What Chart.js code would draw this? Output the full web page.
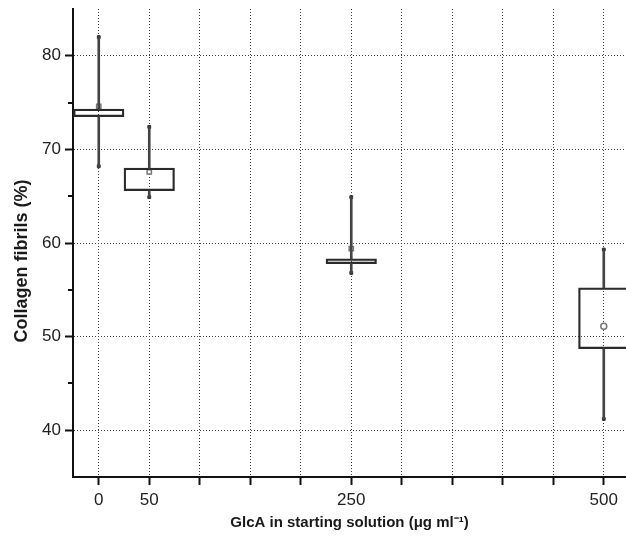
<!DOCTYPE html>
<html>
<head>
<meta charset="utf-8">
<script src="https://cdn.jsdelivr.net/npm/chart.js@4.4.1/dist/chart.umd.min.js"></script>
<style>
    html, body { margin: 0; padding: 0; background: #fff; }
    #wrap { width: 626px; height: 540px; }
</style>
</head>
<body>
<div id="wrap"><canvas id="chart" width="626" height="540"></canvas></div>
<script>
(function () {

    // GlcA dose groups and the box plot values
    var doses = [0, 50, 250, 500];
    var boxLow = [73.5, 65.6, 57.8, 48.7];
    var boxHigh = [74.3, 68.0, 58.3, 55.2];
    var whiskerMin = [68.2, 64.9, 56.8, 41.2];
    var whiskerMax = [82.0, 72.4, 64.9, 59.3];
    var means = [74.6, 67.6, 59.4, 51.1];

    var xTicks = [0, 50, 100, 150, 200, 250, 300, 350, 400, 450, 500];
    var xTickLabels = [0, 50, 250, 500];
    var yTickLabels = [40, 50, 60, 70, 80];
    var yMinorTicks = [45, 55, 65, 75];

    var FONT = "'Liberation Sans', Arial, sans-serif";

    function pairs(a, b) {
        return doses.map(function (d, i) { return { x: d, y: [a[i], b[i]] }; });
    }

    var whiskerEnds = doses.map(function (d, i) { return { x: d, y: whiskerMin[i] }; })
        .concat(doses.map(function (d, i) { return { x: d, y: whiskerMax[i] }; }));

    // short minor ticks on the y axis + rotated y title
    var extras = {
        id: 'extras',
        afterDraw: function (chart) {
            var ctx = chart.ctx;
            var y = chart.scales.y;
            var left = chart.chartArea.left;
            ctx.save();
            ctx.strokeStyle = '#111';
            ctx.lineWidth = 2;
            yMinorTicks.forEach(function (v) {
                var py = Math.round(y.getPixelForValue(v));
                ctx.beginPath();
                ctx.moveTo(left - 5, py);
                ctx.lineTo(left, py);
                ctx.stroke();
            });
            ctx.translate(22, 261);
            ctx.rotate(-Math.PI / 2);
            ctx.fillStyle = '#1a1a1a';
            ctx.font = 'bold 18px ' + FONT;
            ctx.textAlign = 'center';
            ctx.textBaseline = 'middle';
            ctx.fillText('Collagen fibrils (%)', 0, 0);
            ctx.restore();
        }
    };

    new Chart(document.getElementById('chart'), {
        type: 'bar',
        data: {
            datasets: [
                {
                    // upper whiskers
                    data: pairs(boxHigh, whiskerMax),
                    backgroundColor: '#444',
                    barThickness: 2,
                    grouped: false
                },
                {
                    // lower whiskers
                    data: pairs(whiskerMin, boxLow),
                    backgroundColor: '#444',
                    barThickness: 2,
                    grouped: false
                },
                {
                    // boxes
                    data: pairs(boxLow, boxHigh),
                    backgroundColor: 'rgba(255,255,255,0)',
                    borderColor: '#2a2a2a',
                    borderWidth: 1.6,
                    borderSkipped: false,
                    categoryPercentage: 1,
                    barPercentage: 1,
                    grouped: false
                },
                {
                    type: 'line',
                    data: whiskerEnds,
                    showLine: false,
                    pointStyle: 'rect',
                    pointRadius: 2,
                    pointBackgroundColor: '#333',
                    pointBorderColor: '#333',
                    pointBorderWidth: 1
                },
                {
                    type: 'line',
                    data: doses.map(function (d, i) { return { x: d, y: means[i] }; }),
                    showLine: false,
                    pointStyle: ['rect', 'rect', 'rect', 'circle'],
                    pointRadius: 3,
                    pointBackgroundColor: '#fff',
                    pointBorderColor: '#777',
                    pointBorderWidth: 1.5
                }
            ]
        },
        options: {
            responsive: false,
            animation: false,
            layout: {
                autoPadding: false,
                padding: { top: 9, right: 0, bottom: 0, left: 0 }
            },
            plugins: {
                legend: { display: false },
                tooltip: { enabled: false }
            },
            scales: {
                x: {
                    type: 'linear',
                    position: 'bottom',
                    min: -25.5,
                    max: 522,
                    offset: false,
                    grid: {
                        offset: false,
                        color: '#444',
                        lineWidth: 1,
                        tickLength: 8,
                        tickWidth: 2,
                        tickColor: '#111'
                    },
                    border: { color: '#111', width: 2, dash: [1, 2] },
                    afterBuildTicks: function (scale) {
                        scale.ticks = xTicks.map(function (v) { return { value: v }; });
                    },
                    ticks: {
                        autoSkip: false,
                        maxRotation: 0,
                        padding: 5,
                        color: '#222',
                        font: { family: FONT, size: 17 },
                        callback: function (v) {
                            return xTickLabels.indexOf(v) >= 0 ? String(v) : '';
                        }
                    },
                    title: {
                        display: true,
                        text: 'GlcA in starting solution (μg ml⁻¹)',
                        color: '#1a1a1a',
                        font: { family: FONT, size: 15, weight: 'bold' },
                        padding: { top: 0, bottom: 8 }
                    },
                    afterFit: function (scale) {
                        scale.height = 63;
                        scale.paddingLeft = 0;
                        scale.paddingRight = 0;
                    }
                },
                y: {
                    min: 35,
                    max: 85,
                    grid: {
                        color: '#444',
                        lineWidth: 1,
                        tickLength: 8,
                        tickWidth: 2,
                        tickColor: '#111'
                    },
                    border: { color: '#111', width: 2, dash: [1, 2] },
                    afterBuildTicks: function (scale) {
                        scale.ticks = yTickLabels.map(function (v) { return { value: v }; });
                    },
                    ticks: {
                        padding: 4,
                        color: '#222',
                        font: { family: FONT, size: 17 }
                    },
                    afterFit: function (scale) {
                        scale.width = 73;
                        scale.paddingTop = 0;
                        scale.paddingBottom = 0;
                    }
                }
            }
        },
        plugins: [extras]
    });
})();
</script>
</body>
</html>
